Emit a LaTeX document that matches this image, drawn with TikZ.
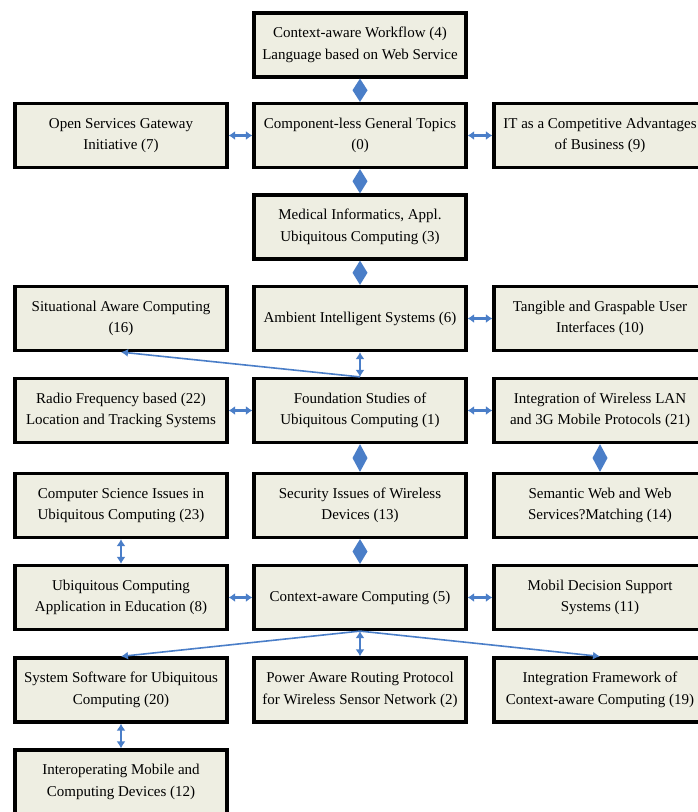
\documentclass[tikz,border=0pt]{standalone}
\usepackage{fontspec}
\setmainfont{Liberation Serif}
\usetikzlibrary{arrows.meta,calc}
\definecolor{boxfill}{RGB}{238,238,226}
\definecolor{linkblue}{RGB}{74,126,200}
\newcommand{\diamondlink}[2]{%
  \fill[linkblue] (#1) -- ($(#1)!0.5!(#2)+(7.5pt,0)$) -- (#2) -- ($(#1)!0.5!(#2)+(-7.5pt,0)$) -- cycle;}
\begin{document}
\begin{tikzpicture}[x=1pt,y=-1pt,
  box/.style={draw=black, line width=3.2pt, fill=boxfill, minimum width=212pt, minimum height=64pt,
    align=center, inner sep=2pt, font=\fontsize{15}{21.5}\selectfont},
  dbl/.style={draw=linkblue, line width=2.2pt,
    {Latex[width=9pt,length=6.5pt]}-{Latex[width=9pt,length=6.5pt]}},
  thin/.style={draw=linkblue, line width=1.6pt, -{Latex[width=8pt,length=7pt]}},
  thindbl/.style={draw=linkblue, line width=2pt,
    {Latex[width=9pt,length=7pt]}-{Latex[width=9pt,length=7pt]}}
]
\useasboundingbox (0,0) rectangle (698,812);
\clip (0,0) rectangle (698,812);
\fill[white] (0,0) rectangle (698,812);

% row 0
\node[box] (n4) at (360,45) {Context-aware Workflow (4)\\Language based on Web Service};
% row 1
\node[box] (n7) at (121,135.5) {Open Services Gateway\\Initiative (7)};
\node[box] (n0) at (360,135.5) {Component-less General Topics\\(0)};
\node[box] (n9) at (600,135.5) {IT as a Competitive Advantages\\of Business (9)};
% row 2
\node[box] (n3) at (360,227) {Medical Informatics, Appl.\\Ubiquitous Computing (3)};
% row 3
\node[box] (n16) at (121,318.5) {Situational Aware Computing\\(16)};
\node[box] (n6) at (360,318.5) {Ambient Intelligent Systems (6)};
\node[box] (n10) at (600,318.5) {Tangible and Graspable User\\Interfaces (10)};
% row 4
\node[box] (n22) at (121,410.5) {Radio Frequency based (22)\\Location and Tracking Systems};
\node[box] (n1) at (360,410.5) {Foundation Studies of\\Ubiquitous Computing (1)};
\node[box] (n21) at (600,410.5) {Integration of Wireless LAN\\and 3G Mobile Protocols (21)};
% row 5
\node[box] (n23) at (121,505.5) {Computer Science Issues in\\Ubiquitous Computing (23)};
\node[box] (n13) at (360,505.5) {Security Issues of Wireless\\Devices (13)};
\node[box] (n14) at (600,505.5) {Semantic Web and Web\\Services?Matching (14)};
% row 6
\node[box] (n8) at (121,597.5) {Ubiquitous Computing\\Application in Education (8)};
\node[box] (n5) at (360,597.5) {Context-aware Computing (5)};
\node[box] (n11) at (600,597.5) {Mobil Decision Support\\Systems (11)};
% row 7
\node[box] (n20) at (121,690) {System Software for Ubiquitous\\Computing (20)};
\node[box] (n2) at (360,690) {Power Aware Routing Protocol\\for Wireless Sensor Network (2)};
\node[box] (n19) at (600,690) {Integration Framework of\\Context-aware Computing (19)};
% row 8
\node[box] (n12) at (121,782) {Interoperating Mobile and\\Computing Devices (12)};

% connectors
\diamondlink{n4.south}{n0.north}
\draw[dbl] (n7.east) -- (n0.west);
\draw[dbl] (n0.east) -- (n9.west);
\diamondlink{n0.south}{n3.north}
\diamondlink{n3.south}{n6.north}
\draw[dbl] (n6.east) -- (n10.west);
\draw[thindbl] (n6.south) -- (n1.north);
\draw[thin] (n1.north) -- (n16.south);
\draw[dbl] (n22.east) -- (n1.west);
\draw[dbl] (n1.east) -- (n21.west);
\diamondlink{n1.south}{n13.north}
\diamondlink{n21.south}{n14.north}
\draw[thindbl] (n23.south) -- (n8.north);
\diamondlink{n13.south}{n5.north}
\draw[dbl] (n8.east) -- (n5.west);
\draw[dbl] (n5.east) -- (n11.west);
\draw[thin] (n5.south) -- (n20.north);
\draw[thin] (n5.south) -- (n19.north);
\draw[thindbl] (n5.south) -- (n2.north);
\draw[thindbl] (n20.south) -- (n12.north);
\end{tikzpicture}
\end{document}
